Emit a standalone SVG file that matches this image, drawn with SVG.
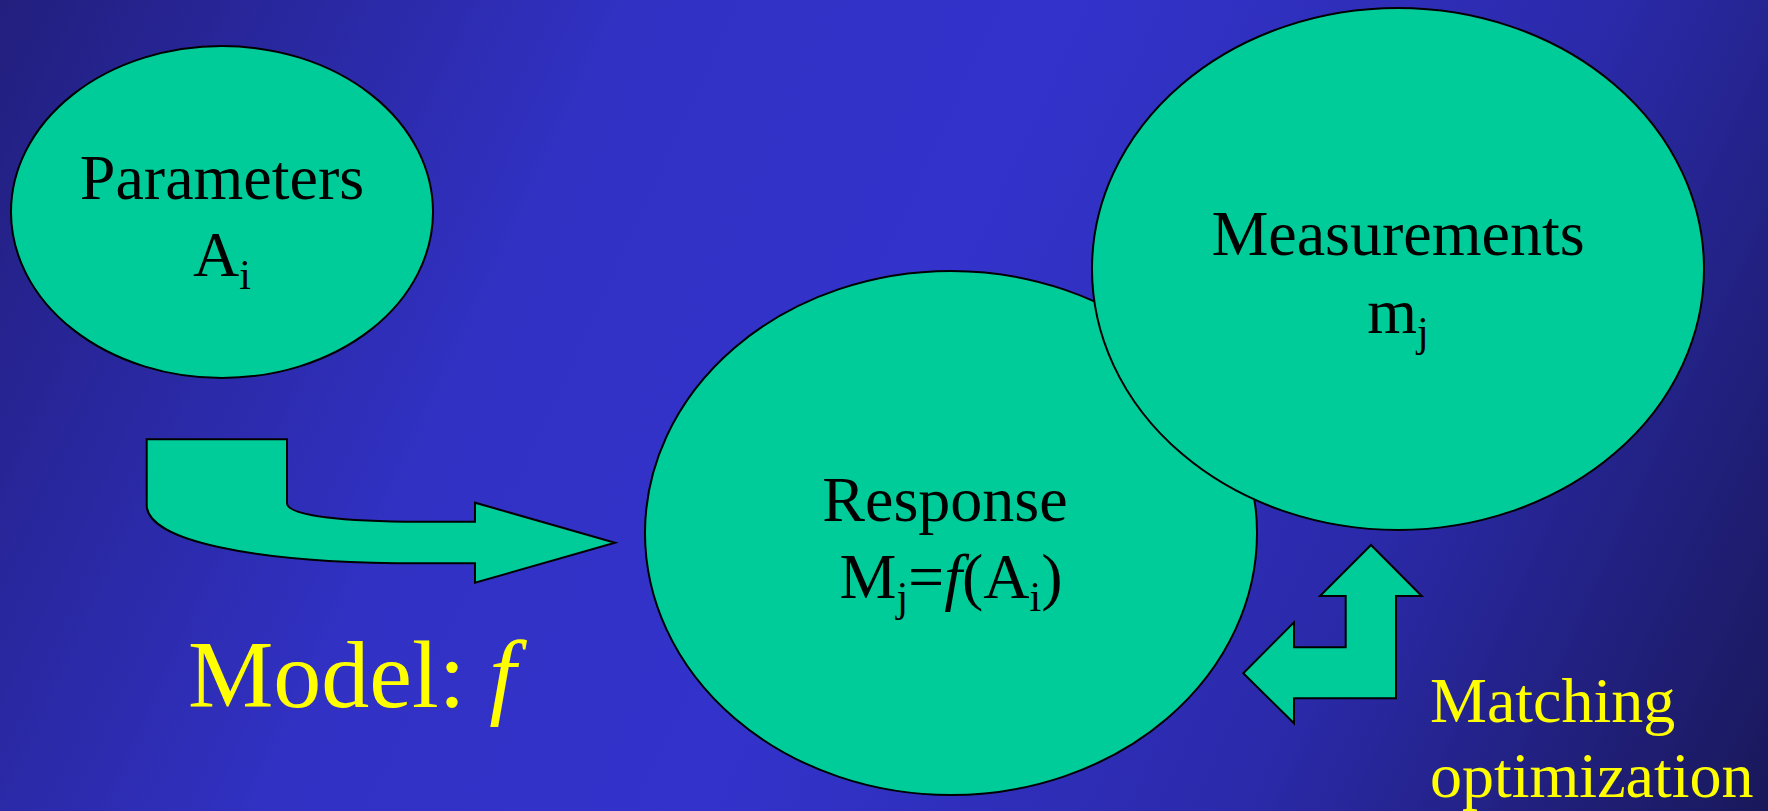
<svg xmlns="http://www.w3.org/2000/svg" width="1768" height="811" viewBox="0 0 1768 811">
<defs>
<linearGradient id="bg" x1="0" y1="0" x2="1768" y2="811" gradientUnits="userSpaceOnUse">
<stop offset="0" stop-color="#221f7e"/>
<stop offset="0.3" stop-color="#3131c4"/>
<stop offset="0.5" stop-color="#3333cc"/>
<stop offset="0.75" stop-color="#2b2aab"/>
<stop offset="1" stop-color="#19185a"/>
</linearGradient>
<style>
.shape{fill:#00cc99;stroke:#000;stroke-width:2}
.lbl{font-family:"Liberation Serif","Times New Roman",serif;font-size:64px;fill:#000;text-anchor:middle}
.yl{font-family:"Liberation Serif","Times New Roman",serif;fill:#ffff00}
.sub{font-size:42px}
</style>
</defs>
<rect width="1768" height="811" fill="url(#bg)"/>
<g id="connectors">
<path id="model-arrow" class="shape" d="M146.7,439.3 L287,439.3 L287,503 C287,516 345,521.7 420,521.7 L475,521.7 L475,502.7 L615,542.7 L475,582.7 L475,563.3 L420,563.3 C250,563.3 146.7,540 146.7,505 Z"/>
<path id="matching-arrow" class="shape" d="M1371,545 L1421.7,596 L1396,596 L1396,698.3 L1294,698.3 L1294,723.3 L1243.3,673.3 L1294,622.3 L1294,647.3 L1345.7,647.3 L1345.7,596 L1320,596 Z"/>
</g>
<g id="parameters">
<ellipse class="shape" cx="222" cy="212" rx="211" ry="166"/>
<text class="lbl" x="222" y="199">Parameters</text>
<text class="lbl" x="222" y="276">A<tspan class="sub" dy="13">i</tspan></text>
</g>
<g id="response">
<ellipse class="shape" cx="951" cy="533" rx="306" ry="262"/>
<text class="lbl" x="945" y="521">Response</text>
<text class="lbl" x="951" y="598">M<tspan class="sub" dy="13">j</tspan><tspan dy="-13">=</tspan><tspan font-style="italic">f</tspan>(A<tspan class="sub" dy="13">i</tspan><tspan dy="-13">)</tspan></text>
</g>
<g id="measurements">
<ellipse class="shape" cx="1398" cy="269" rx="306" ry="261"/>
<text class="lbl" x="1398" y="255">Measurements</text>
<text class="lbl" x="1398" y="333">m<tspan class="sub" dy="13">j</tspan></text>
</g>
<g id="model-label">
<text class="yl" x="188" y="707" font-size="96">Model: <tspan font-style="italic">f</tspan></text>
</g>
<g id="matching-label">
<text class="yl" x="1430" y="722" font-size="64">Matching</text>
<text class="yl" x="1430" y="797" font-size="64">optimization</text>
</g>
</svg>
